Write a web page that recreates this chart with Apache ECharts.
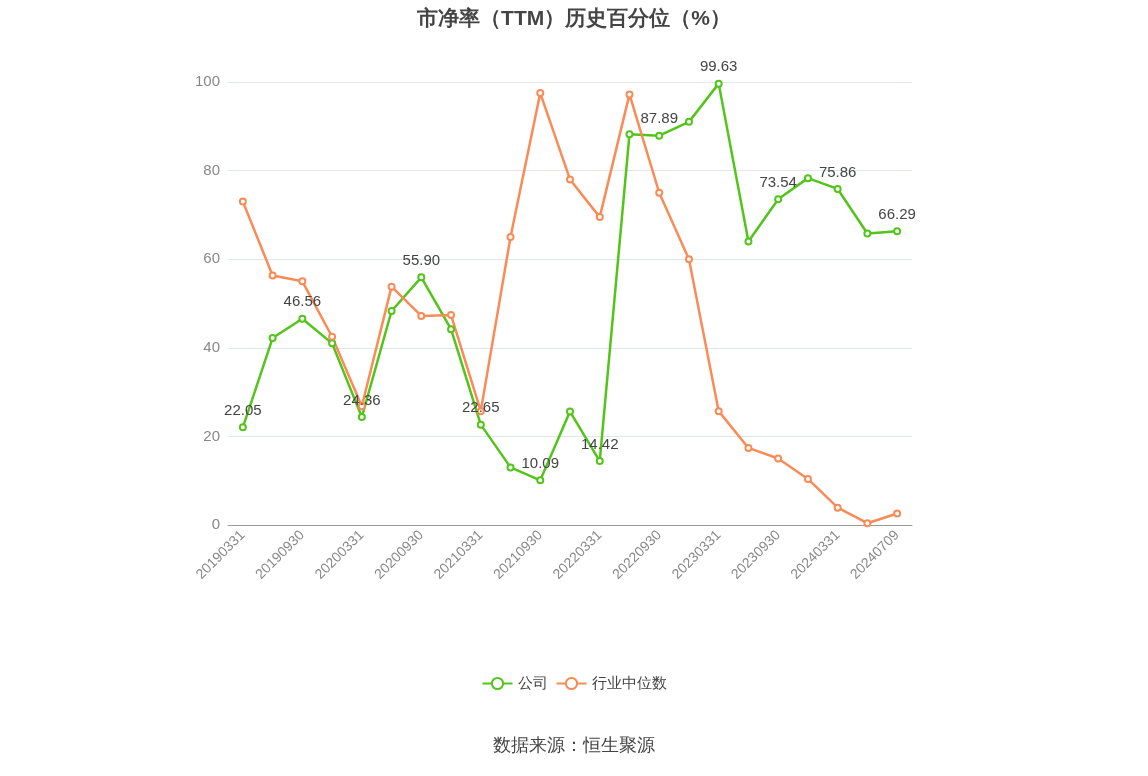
<!DOCTYPE html>
<html><head><meta charset="utf-8">
<script src="https://cdn.jsdelivr.net/npm/echarts@6/dist/echarts.min.js"></script>
<style>html,body{margin:0;padding:0;background:#fff}#c{width:1148px;height:776px}</style>
</head><body><div id="c"></div>
<script>
const dates = ['20190331','20190630','20190930','20191231','20200331','20200630','20200930','20201231','20210331','20210630','20210930','20211231','20220331','20220630','20220930','20221231','20230331','20230630','20230930','20231231','20240331','20240630','20240709'];
const company = [22.05,42.2,46.56,41.0,24.36,48.3,55.90,44.2,22.65,13.0,10.09,25.6,14.42,88.2,87.89,91.0,99.63,64.0,73.54,78.3,75.86,65.8,66.29];
const industry = [73.0,56.3,55.0,42.5,26.8,53.8,47.2,47.4,25.7,65.0,97.5,78.0,69.5,97.2,75.0,60.0,25.7,17.4,15.0,10.4,3.9,0.4,2.6];
const labelled = [0,2,4,6,8,10,12,14,16,18,20,22];

const chart = echarts.init(document.getElementById('c'));
chart.setOption({
    title: {
        text: '市净率（TTM）历史百分位（%）',
        left: 'center', top: 4,
        textStyle: { fontSize: 21, fontWeight: 'bold', color: '#444' }
    },
    legend: {
        bottom: 80, itemWidth: 30, itemHeight: 14,
        textStyle: { fontSize: 15, color: '#444' },
        data: ['公司', '行业中位数']
    },
    graphic: [{
        type: 'text', left: 'center', top: 737,
        style: { text: '数据来源：恒生聚源', fontSize: 18, fill: '#444' }
    }],
    grid: { left: 228, right: 236, top: 82, bottom: 251 },
    xAxis: {
        type: 'category', data: dates,
        axisTick: { alignWithLabel: true, interval: 1 },
        axisLine: { lineStyle: { color: '#999' } },
        axisLabel: { interval: 1, rotate: 45, fontSize: 14, color: '#888' }
    },
    yAxis: {
        type: 'value', min: 0, max: 100, interval: 20,
        axisLabel: { fontSize: 15, color: '#888' },
        splitLine: { lineStyle: { color: '#e0e6f1' } }
    },
    series: [{
        name: '公司', type: 'line', data: company.map((v, i) => ({
            value: v,
            label: { show: labelled.includes(i), position: 'top', fontSize: 15, color: '#444', formatter: p => p.value.toFixed(2) }
        })),
        symbol: 'circle', symbolSize: 6,
        itemStyle: { color: '#fff', borderColor: '#52c41a', borderWidth: 2 },
        lineStyle: { color: '#52c41a', width: 2.5 },
        z: 3
    }, {
        name: '行业中位数', type: 'line', data: industry,
        symbol: 'circle', symbolSize: 6,
        itemStyle: { color: '#fff', borderColor: '#fa8a56', borderWidth: 2 },
        lineStyle: { color: '#fa8a56', width: 2.5 }
    }]
});
</script></body></html>
